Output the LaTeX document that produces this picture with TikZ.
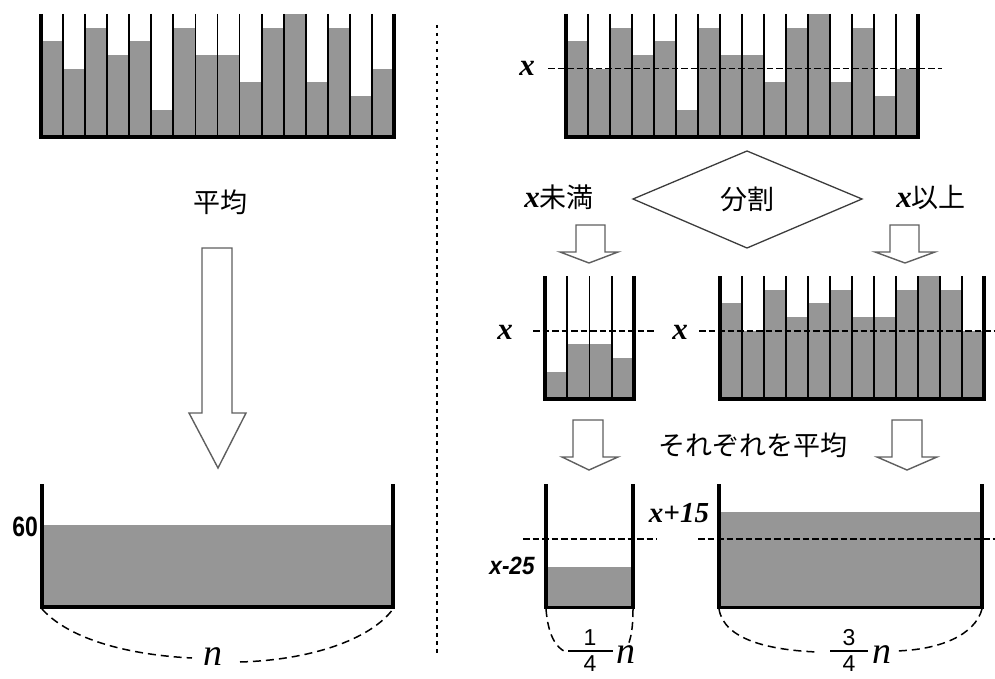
\documentclass[tikz,border=0pt]{standalone}
\usepackage{fontspec}
\usepackage{graphicx}
\newfontfamily\cjk{Noto Sans CJK JP}
\newfontfamily\tms{Liberation Serif}
\newfontfamily\arl{Liberation Sans}
\definecolor{barfill}{RGB}{150,150,150}
\definecolor{arrowline}{RGB}{95,95,95}
\definecolor{dialine}{RGB}{60,60,60}
\tikzset{
  wall/.style={line width=3.5pt, line join=miter, black},
  divider/.style={line width=1.8pt, black},
  bar/.style={fill=barfill},
  xline/.style={line width=1.5pt, dash pattern=on 6.5pt off 3pt},
  brace/.style={line width=1.5pt, dash pattern=on 8pt off 5pt},
  sepline/.style={line width=2pt, dash pattern=on 3.5pt off 4.5pt},
  harrow/.style={draw=arrowline, line width=1.4pt, fill=white, line join=miter},
  jp/.style={font=\cjk\fontsize{27}{30}\selectfont, inner sep=0pt},
  xlab/.style={font=\tms\bfseries\itshape\fontsize{31}{34}\selectfont, inner sep=0pt},
  lvl/.style={inner sep=0pt},
  ital/.style={font=\tms\itshape\fontsize{38}{40}\selectfont, inner sep=0pt},
  digit/.style={font=\arl\fontsize{23}{25}\selectfont, inner sep=0pt},
}
\begin{document}
\begin{tikzpicture}[x=1pt,y=-1pt]
\useasboundingbox (0,0) rectangle (995,679);

% ---------- top-left container ----------
\foreach \h [count=\i from 0] in {7,5,8,6,7,2,8,6,6,4,8,9,4,8,3,5}
  \fill[bar] ({41+\i*22.0625},137) rectangle ({41+(\i+1)*22.0625},{137-\h*13.667});
\foreach \i in {1,...,15}
  \draw[divider] ({41+\i*22.0625},14) -- ({41+\i*22.0625},137);
\draw[wall] (41,14) -- (41,137) -- (394,137) -- (394,14);

% ---------- left: average ----------
\node[jp] (avgL) at (220,202) {平均};
\draw[harrow] (202,248) -- (232,248) -- (232,413) -- (246,413) -- (218,468) -- (189,413) -- (202,413) -- cycle;

\fill[bar] (42,525) rectangle (393,607);
\draw[wall] (42,484) -- (42,607) -- (393,607) -- (393,484);
\node[lvl, anchor=east] (sixty) at (38,527) {\arl\bfseries\fontsize{28}{30}\selectfont\scalebox{0.82}[1]{60}};
\coordinate (BLa) at (42,609);
\coordinate (BLb) at (393,609);
\node[ital] (nL) at (213,657) {n};
\draw[brace] (BLa) .. controls (70,640) and (130,655) .. (192,658);
\draw[brace] (240,662) .. controls (310,660) and (370,640) .. (BLb);

% ---------- separator ----------
\draw[sepline] (437,25) -- (437,657);

% ---------- top-right container ----------
\foreach \h [count=\i from 0] in {7,5,8,6,7,2,8,6,6,4,8,9,4,8,3,5}
  \fill[bar] ({566+\i*22},137) rectangle ({566+(\i+1)*22},{137-\h*13.667});
\foreach \i in {1,...,15}
  \draw[divider] ({566+\i*22},14) -- ({566+\i*22},137);
\draw[wall] (566,14) -- (566,137) -- (918,137) -- (918,14);
\draw[xline] (548,68.7) -- (942,68.7);
\node[xlab] (xT) at (527,68) {x};

% ---------- split ----------
\node[jp] (split) at (747,199) {分割};
\draw[line width=1.3pt, draw=dialine, line join=miter] (633,199) -- (747,151) -- (862,199) -- (747,248) -- cycle;
\node[jp] (lt) at (559,197) {{\tms\bfseries\itshape\fontsize{31}{34}\selectfont x}未満};
\node[jp] (ge) at (931,197) {{\tms\bfseries\itshape\fontsize{31}{34}\selectfont x}以上};

\draw[harrow] (576,225) -- (605,225) -- (605,252) -- (618,252) -- (589,263) -- (560,252) -- (576,252) -- cycle;
\draw[harrow] (890,225) -- (919,225) -- (919,252) -- (935,252) -- (905,263) -- (875,252) -- (890,252) -- cycle;

% ---------- middle-left container ----------
\foreach \h [count=\i from 0] in {2,4,4,3}
  \fill[bar] ({545+\i*22.25},399) rectangle ({545+(\i+1)*22.25},{399-\h*13.667});
\foreach \i in {1,...,3}
  \draw[divider] ({545+\i*22.25},276) -- ({545+\i*22.25},399);
\draw[wall] (545,276) -- (545,399) -- (634,399) -- (634,276);
\draw[xline] (533,331) -- (655,331);
\node[xlab] (xML) at (505,332) {x};

% ---------- middle-right container ----------
\foreach \h [count=\i from 0] in {7,5,8,6,7,8,6,6,8,9,8,5}
  \fill[bar] ({720+\i*22},399) rectangle ({720+(\i+1)*22},{399-\h*13.667});
\foreach \i in {1,...,11}
  \draw[divider] ({720+\i*22},276) -- ({720+\i*22},399);
\draw[wall] (720,276) -- (720,399) -- (984,399) -- (984,276);
\draw[xline] (699,331) -- (995,331);
\node[xlab] (xMR) at (680,332) {x};

% ---------- each average ----------
\node[jp] (each) at (753,445) {それぞれを平均};
\draw[harrow] (573,420) -- (603,420) -- (603,457) -- (618,457) -- (589,470) -- (562,457) -- (573,457) -- cycle;
\draw[harrow] (892,420) -- (922,420) -- (922,457) -- (937,457) -- (907,470) -- (877,457) -- (892,457) -- cycle;

% ---------- bottom-left small ----------
\fill[bar] (546,566.5) rectangle (633,607.5);
\draw[wall] (546,484) -- (546,607.5) -- (633,607.5) -- (633,484);
\draw[xline] (523,539) -- (657,539);
\node[lvl] (xm25) at (512,566) {\arl\bfseries\itshape\fontsize{25}{27}\selectfont\scalebox{0.9}[1]{x-25}};
\coordinate (SLa) at (546,609);
\coordinate (SLb) at (633,609);
\draw[brace] (SLa) .. controls (548,635) and (556,648) .. (566,652);
\draw[brace] (SLb) .. controls (633,628) and (631,638) .. (628,645);
\node[digit] (n1) at (590,638) {1};
\node[digit] (d1) at (590,664) {4};
\draw[line width=1.5pt] (568,651) -- (613,651);
\node[ital] (nS) at (626,655) {n};

% ---------- bottom-right big ----------
\fill[bar] (719,511.8) rectangle (982,607.5);
\draw[wall] (719,484) -- (719,607.5) -- (982,607.5) -- (982,484);
\draw[xline] (698,539) -- (995,539);
\node[lvl] (xp15) at (679,513) {\tms\bfseries\itshape\fontsize{29}{32}\selectfont x+15};
\coordinate (SRa) at (719,609);
\coordinate (SRb) at (982,609);
\draw[brace] (SRa) .. controls (724,640) and (770,650) .. (817,652);
\draw[brace] (SRb) .. controls (975,635) and (940,650) .. (895,651);
\node[digit] (n3) at (849,638) {3};
\node[digit] (d3) at (849,664) {4};
\draw[line width=1.5pt] (830,651) -- (868,651);
\node[ital] (nB) at (882,655) {n};
\end{tikzpicture}
\end{document}
